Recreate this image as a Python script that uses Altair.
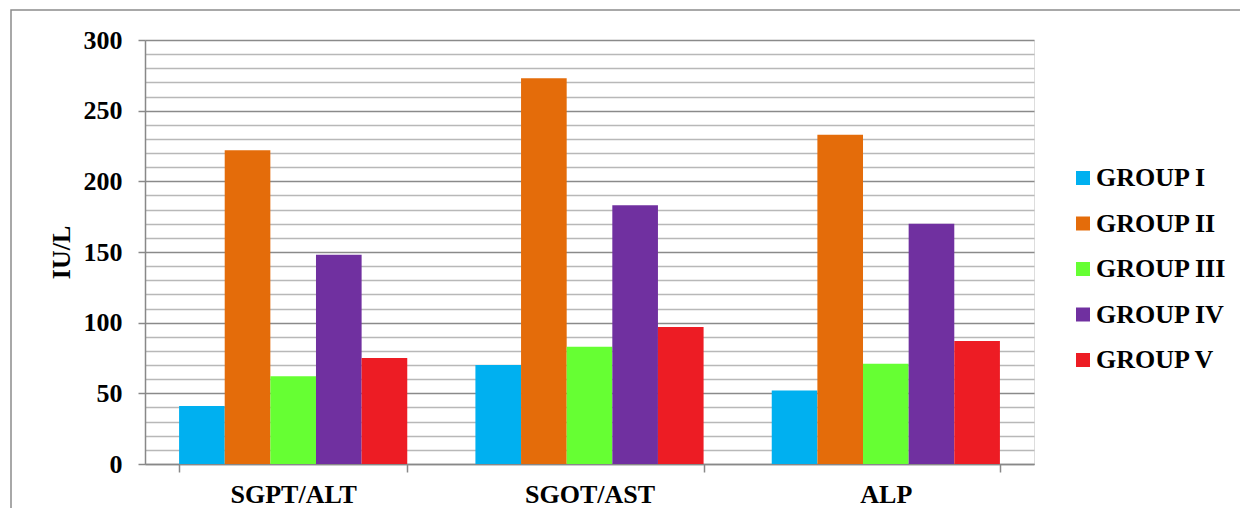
import altair as alt
import pandas as pd

tests = ["SGPT/ALT", "SGOT/AST", "ALP"]
groups = ["GROUP I", "GROUP II", "GROUP III", "GROUP IV", "GROUP V"]
group_i = [41, 70, 52]
group_ii = [222, 273, 233]
group_iii = [62, 83, 71]
group_iv = [148, 183, 170]
group_v = [75, 97, 87]
colors = ["#00B0F0", "#E46C0A", "#66FF33", "#7030A0", "#ED1C24"]
y_ticks = list(range(0, 301, 10))

series = [group_i, group_ii, group_iii, group_iv, group_v]
rows = []
for g, vals in zip(groups, series):
    for t, v in zip(tests, vals):
        rows.append({"test": t, "group": g, "value": v})
df = pd.DataFrame(rows)

FONT = "'Liberation Serif', 'Times New Roman', 'DejaVu Serif', serif"

bars = alt.Chart(df).mark_bar().encode(
    x=alt.X("test:N", sort=tests, title=None,
            scale=alt.Scale(paddingInner=0.23, paddingOuter=0.115),
            axis=alt.Axis(labelAngle=0, labelFont=FONT, labelFontSize=26, labelFontWeight="bold",
                          labelColor="black", labelPadding=9, tickSize=8, tickBand="extent",
                          tickColor="#888888", domainColor="#888888", tickWidth=1.5,
                          domainWidth=1.5, grid=False)),
    xOffset=alt.XOffset("group:N", sort=groups, scale=alt.Scale(paddingInner=0, paddingOuter=0)),
    y=alt.Y("value:Q", title="IU/L",
            scale=alt.Scale(domain=[0, 300], nice=False),
            axis=alt.Axis(values=y_ticks, labelFont=FONT, labelFontSize=26, labelFontWeight="bold",
                          labelColor="black", labelPadding=16, tickSize=7,
                          labelExpr="datum.value % 50 === 0 ? datum.label : ''",
                          tickOpacity={"condition": {"test": "datum.value % 50 === 0", "value": 1}, "value": 0},
                          gridColor={"condition": {"test": "datum.value % 50 === 0", "value": "#8a8a8a"}, "value": "#b8b8b8"},
                          gridWidth=1.6, tickColor="#888888", tickWidth=1.5,
                          domainColor="#888888", domainWidth=1.5,
                          titleFont=FONT, titleFontSize=26, titleFontWeight="bold", titleColor="black",
                          titleX=-84, titleY=212, titleBaseline="middle", titleAngle=-90)),
    color=alt.Color("group:N", sort=groups, scale=alt.Scale(domain=groups, range=colors),
                    legend=alt.Legend(title=None, orient="none", legendX=925, legendY=125,
                                      symbolType="square", symbolSize=196, symbolStrokeWidth=0,
                                      labelFont=FONT, labelFontSize=26, labelFontWeight="bold",
                                      labelColor="black", labelOffset=0, rowPadding=19.5, padding=0,
                                      labelLimit=400)),
)

frame = alt.Chart(pd.DataFrame({"a": [0]})).mark_rect(
    fill="transparent", stroke="#8c8c8c", strokeWidth=1.5
).encode(x=alt.value(-134), x2=alt.value(1300), y=alt.value(-30), y2=alt.value(700))

chart = alt.layer(frame, bars).properties(
    width=889, height=424,
    autosize=alt.AutoSizeParams(type="none"),
    padding={"left": 137, "top": 32, "right": 206, "bottom": 44},
).configure_view(stroke=None).configure(background="white")

chart.save("out.html", embed_options={"renderer": "svg", "actions": False})
